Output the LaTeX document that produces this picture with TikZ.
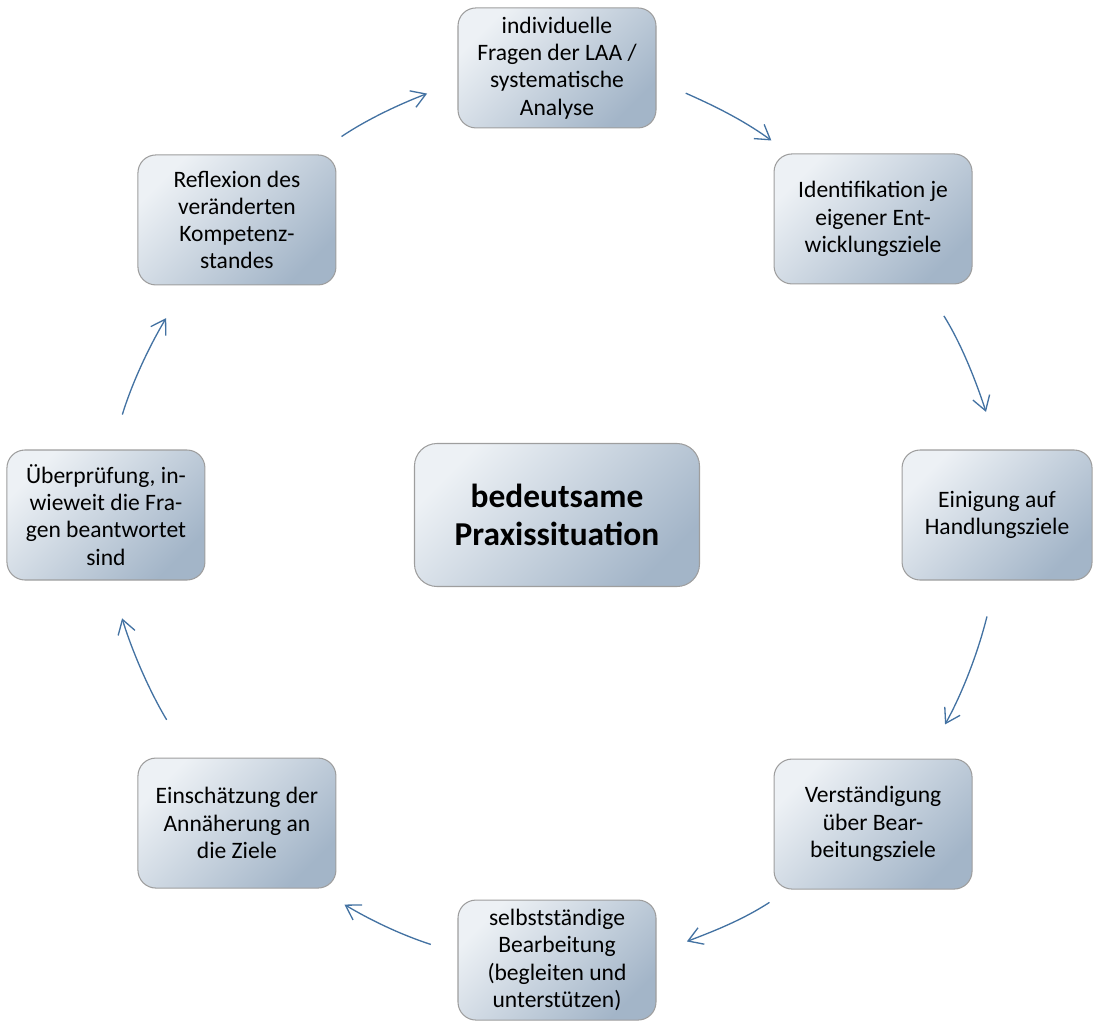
\documentclass[tikz,border=0pt]{standalone}
\usepackage{fontspec}
\setmainfont{Carlito}
\usepackage{tikz}
\usetikzlibrary{positioning,arrows.meta}
\definecolor{boxlight}{HTML}{EDF1F5}
\definecolor{boxdark}{HTML}{A3B5C8}
\definecolor{boxline}{HTML}{9E9E9E}
\definecolor{cycblue}{HTML}{4372A2}

\begin{document}
\begin{tikzpicture}[
        stage/.style={draw=boxline, line width=0.6pt, rounded corners=0.36cm,
            top color=boxlight, bottom color=boxdark, shading angle=45,
            minimum width=3.96cm, minimum height=2.6cm, align=center, inner sep=2pt,
            font=\fontsize{13.4}{15.5}\selectfont},
        core/.style={stage, rounded corners=0.45cm, minimum width=5.7cm, minimum height=2.86cm,
            font=\fontsize{19}{22}\selectfont\bfseries},
        cyc/.style={draw=cycblue, line width=0.75pt, -{Straight Barb[length=8pt,width=10pt]}},
    ]
        \useasboundingbox (-11.14,-10.16) rectangle (10.72,10.30);
        \node[core] (mid) at (0,0) {bedeutsame\\Praxissituation};
        \node[stage, minimum height=2.4cm, above=6.29cm of mid] (q1) {individuelle\\Fragen der LAA /\\systematische\\Analyse};
        \node[stage, above right=3.17cm and 1.47cm of mid] (q2) {Identifikation je\\eigener Ent-\\wicklungsziele};
        \node[stage, minimum width=3.8cm, right=4.03cm of mid] (q3) {Einigung auf\\Handlungsziele};
        \node[stage, below right=3.43cm and 1.47cm of mid] (q4) {Verständigung\\über Bear-\\beitungsziele};
        \node[stage, minimum height=2.4cm, below=6.25cm of mid] (q5) {selbstständige\\Bearbeitung\\(begleiten und\\unterstützen)};
        \node[stage, below left=3.41cm and 1.55cm of mid] (q6) {Einschätzung der\\Annäherung an\\die Ziele};
        \node[stage, left=4.17cm of mid] (q7) {Überprüfung, in-\\wieweit die Fra-\\gen beantwortet\\sind};
        \node[stage, above left=3.15cm and 1.55cm of mid] (q8) {Reflexion des\\veränderten\\Kompetenz-\\standes};

        \draw[cyc, shorten <=0.64cm, shorten >=0.65cm] (q8.40) to[out=34, in=201] (q1.188);
        \draw[cyc, shorten <=0.64cm, shorten >=0.44cm] (q1.353) to[out=-24, in=144] (q2.142);
        \draw[cyc, shorten <=0.74cm, shorten >=0.79cm] (q2.308) to[out=-58, in=108] (q3.89);
        \draw[cyc, shorten <=0.74cm, shorten >=0.78cm] (q3.269) to[out=-104, in=61] (q4.51);
        \draw[cyc, shorten <=0.47cm, shorten >=0.65cm] (q4.218) to[out=213, in=21] (q5.4);
        \draw[cyc, shorten <=0.56cm, shorten >=0.62cm] (q5.176) to[out=162, in=-31] (q6.321);
        \draw[cyc, shorten <=0.88cm, shorten >=0.79cm] (q6.126) to[out=121, in=-73] (q7.274);
        \draw[cyc, shorten <=0.73cm, shorten >=0.76cm] (q7.85) to[out=73, in=239] (q8.232);
    \end{tikzpicture}
\end{document}
